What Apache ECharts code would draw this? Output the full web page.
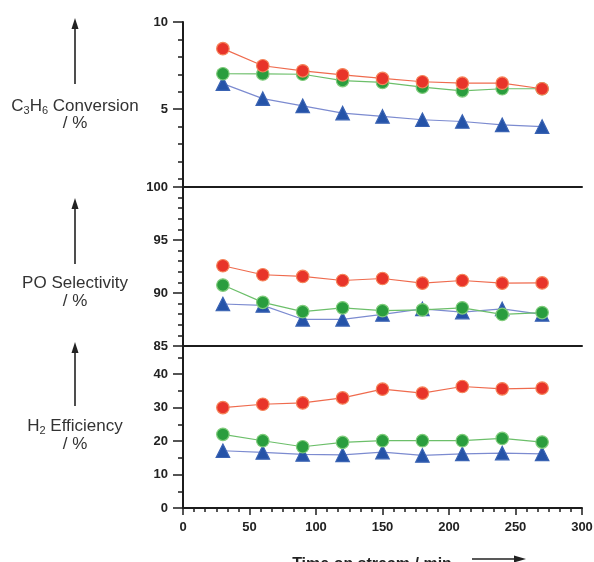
<!DOCTYPE html>
<html>
<head>
<meta charset="utf-8">
<script src="https://cdn.jsdelivr.net/npm/echarts@6/dist/echarts.min.js"></script>
<style>
  html, body { margin: 0; padding: 0; background: #fff; }
  #chart { width: 594px; height: 562px; }
</style>
</head>
<body>
<div id="chart"></div>
<script>
// time on stream (min)
const time = [30, 60, 90, 120, 150, 180, 210, 240, 270];

// C3H6 conversion / %
const convRed = [8.47, 7.49, 7.2, 6.97, 6.76, 6.57, 6.49, 6.49, 6.17];
const convGreen = [7.03, 7.02, 7.0, 6.64, 6.53, 6.26, 6.05, 6.17, 6.17];
const convBlue = [6.46, 5.6, 5.19, 4.77, 4.58, 4.39, 4.29, 4.1, 4.0];

// PO selectivity / %
const selRed = [92.57, 91.72, 91.56, 91.18, 91.37, 90.93, 91.18, 90.93, 90.95];
const selGreen = [90.75, 89.12, 88.24, 88.6, 88.33, 88.4, 88.6, 87.98, 88.15];
const selBlue = [88.96, 88.83, 87.52, 87.52, 87.98, 88.5, 88.2, 88.5, 87.98];

// H2 efficiency / %
const effRed = [30.0, 31.0, 31.4, 32.9, 35.5, 34.3, 36.3, 35.6, 35.8];
const effGreen = [22.0, 20.1, 18.3, 19.6, 20.1, 20.1, 20.1, 20.8, 19.7];
const effBlue = [17.1, 16.6, 16.0, 15.9, 16.7, 15.7, 16.2, 16.4, 16.2];

// tick labels
const convTicks = [5, 10];
const convMinor = [1, 2, 3, 4, 5, 6, 7, 8, 9, 10];
const selTicks = [85, 90, 95, 100];
const selMinor = [86, 87, 88, 89, 91, 92, 93, 94, 96, 97, 98, 99];
const effTicks = [0, 10, 20, 30, 40];
const effMinor = [5, 15, 25, 35, 45];

const FONT = '"Liberation Sans", Arial, sans-serif';
const AXIS = '#1c1c1c';

const chart = echarts.init(document.getElementById('chart'));

function majorY(grid, min, max, ticks) {
  return {
    type: 'value', gridIndex: grid, min: min, max: max, position: 'left',
    axisLine: { show: true, lineStyle: { color: AXIS, width: 2 } },
    axisTick: { show: true, length: 10, customValues: ticks, lineStyle: { color: AXIS, width: 1.5 } },
    axisLabel: {
      customValues: ticks, margin: 15, color: '#222',
      fontFamily: FONT, fontWeight: 'bold', fontSize: 13
    },
    splitLine: { show: false }
  };
}

function minorY(grid, min, max, ticks) {
  return {
    type: 'value', gridIndex: grid, min: min, max: max, position: 'left',
    axisLine: { show: false },
    axisTick: { show: true, length: 5, customValues: ticks, lineStyle: { color: AXIS, width: 1.5 } },
    axisLabel: { show: false },
    splitLine: { show: false }
  };
}

function plainX(grid) {
  return {
    type: 'value', gridIndex: grid, min: 0, max: 300,
    axisLine: { show: true, onZero: false, lineStyle: { color: AXIS, width: 2 } },
    axisTick: { show: false },
    axisLabel: { show: false },
    splitLine: { show: false }
  };
}

const styles = {
  red: { fill: '#e8342a', border: '#f5845a', line: '#ef6b4e', symbol: 'circle', size: 12.5 },
  green: { fill: '#2a9d3e', border: '#80cc7c', line: '#6cbf6a', symbol: 'circle', size: 12.5 },
  blue: { fill: '#2553a8', border: '#3a63b3', line: '#7c8bd0', symbol: 'triangle', size: 13.5 }
};

function line(grid, yIdx, values, key) {
  const s = styles[key];
  return {
    type: 'line', xAxisIndex: grid, yAxisIndex: yIdx,
    data: time.map((t, i) => [t, values[i]]),
    symbol: s.symbol, symbolSize: s.size,
    lineStyle: { color: s.line, width: 1.2 },
    itemStyle: { color: s.fill, borderColor: s.border, borderWidth: 1.2 },
    z: key === 'red' ? 4 : (key === 'green' ? 3 : 2),
    animation: false
  };
}

function label(x, y, rich, lines) {
  return {
    type: 'text', x: x, y: y,
    style: {
      text: lines, align: 'center', verticalAlign: 'middle',
      fill: '#333', font: '17px ' + FONT, rich: rich
    }
  };
}

const rich = {
  n: { fontSize: 17, fontFamily: FONT, color: '#333', lineHeight: 20 },
  s: { fontSize: 11, fontFamily: FONT, color: '#333', lineHeight: 20, verticalAlign: 'bottom', padding: [7, 0, 0, 0] }
};

function upArrow(x, yTop, yBottom) {
  return [
    { type: 'line', shape: { x1: x, y1: yTop + 8, x2: x, y2: yBottom }, style: { stroke: '#222', lineWidth: 1.6 } },
    { type: 'polygon', shape: { points: [[x, yTop], [x - 3.5, yTop + 11], [x + 3.5, yTop + 11]] }, style: { fill: '#222' } }
  ];
}

const gridBase = { left: 183, right: 12, outerBoundsMode: 'none', containLabel: false };

chart.setOption({
  animation: false,
  backgroundColor: '#fff',
  grid: [
    Object.assign({ top: 22, height: 165 }, gridBase),
    Object.assign({ top: 187, height: 159 }, gridBase),
    Object.assign({ top: 346, height: 162 }, gridBase)
  ],
  xAxis: [
    plainX(0),
    plainX(1),
    {
      type: 'value', gridIndex: 2, min: 0, max: 300, interval: 50,
      axisLine: { show: true, onZero: false, lineStyle: { color: AXIS, width: 2 } },
      axisTick: { show: true, length: 7, lineStyle: { color: AXIS, width: 1.5 } },
      minorTick: { show: true, splitNumber: 6, length: 4, lineStyle: { color: AXIS, width: 1.5 } },
      axisLabel: { margin: 13, color: '#222', fontFamily: FONT, fontWeight: 'bold', fontSize: 13 },
      splitLine: { show: false }
    }
  ],
  yAxis: [
    majorY(0, 0.53, 10, convTicks),
    minorY(0, 0.53, 10, convMinor),
    majorY(1, 85, 100, selTicks),
    minorY(1, 85, 100, selMinor),
    majorY(2, 0, 48.4, effTicks),
    minorY(2, 0, 48.4, effMinor)
  ],
  series: [
    line(0, 0, convBlue, 'blue'),
    line(0, 0, convGreen, 'green'),
    line(0, 0, convRed, 'red'),
    line(1, 2, selBlue, 'blue'),
    line(1, 2, selGreen, 'green'),
    line(1, 2, selRed, 'red'),
    line(2, 4, effBlue, 'blue'),
    line(2, 4, effGreen, 'green'),
    line(2, 4, effRed, 'red')
  ],
  graphic: [
    ...upArrow(75, 18, 84),
    label(75, 106, rich, '{n|C}{s|3}{n|H}{s|6}{n| Conversion}'),
    label(75, 123, rich, '{n|/ %}'),
    ...upArrow(75, 198, 264),
    label(75, 283, rich, '{n|PO Selectivity}'),
    label(75, 301, rich, '{n|/ %}'),
    ...upArrow(75, 342, 406),
    label(75, 426, rich, '{n|H}{s|2}{n| Efficiency}'),
    label(75, 444, rich, '{n|/ %}'),
    {
      type: 'text', x: 372, y: 565,
      style: {
        text: 'Time on stream / min', align: 'center', verticalAlign: 'middle',
        fill: '#222', font: 'bold 16px ' + FONT
      }
    },
    { type: 'line', shape: { x1: 472, y1: 559, x2: 516, y2: 559 }, style: { stroke: '#222', lineWidth: 1.6 } },
    { type: 'polygon', shape: { points: [[526, 559], [514, 555.5], [514, 562.5]] }, style: { fill: '#222' } }
  ]
});
</script>
</body>
</html>
